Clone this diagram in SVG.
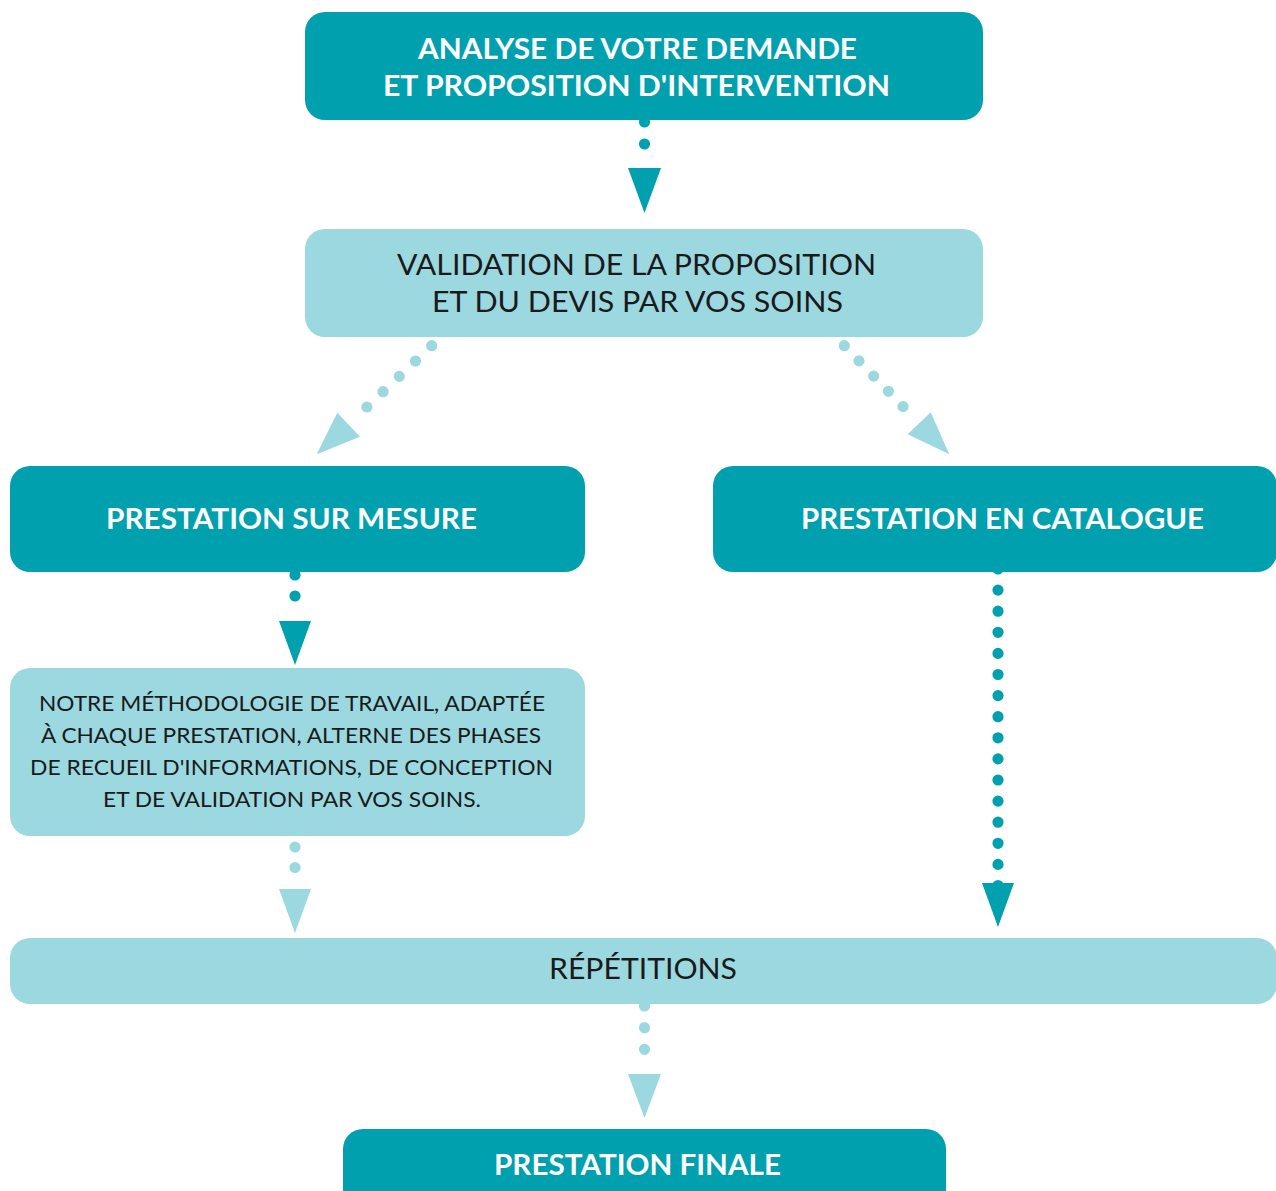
<svg xmlns="http://www.w3.org/2000/svg" width="1276" height="1191" viewBox="0 0 1276 1191">
<style>
.dark{fill:#00a0ae}
.light{fill:#9cd8e0}
.dkdots{stroke:#00a0ae;stroke-width:11.2;stroke-linecap:round;fill:none}
.ltdots{stroke:#9cd8e0;stroke-width:11.2;stroke-linecap:round;fill:none}
.dkhead{fill:#00a0ae}
.lthead{fill:#9cd8e0}
text{font-family:Lato,"Open Sans","Liberation Sans",sans-serif;text-anchor:middle}
.tw{fill:#ffffff;font-weight:bold;font-size:28px}
.tb{fill:#1a1a1a;font-weight:normal;font-size:28px}
.ts{fill:#1a1a1a;font-weight:normal;font-size:22px}
</style>
<rect width="1276" height="1191" fill="#ffffff"/>
<g id="connectors">
  <line class="dkdots" x1="644.5" y1="122" x2="644.5" y2="166" stroke-dasharray="0 22"/>
  <polygon class="dkhead" points="628,168 661,168 644.5,213"/>
  <line class="ltdots" x1="431.7" y1="345.7" x2="350.7" y2="422.3" stroke-dasharray="0 22.3"/>
  <polygon class="lthead" points="316.7,454.3 337.3,412.7 360,436.7"/>
  <line class="ltdots" x1="844.3" y1="345.7" x2="917.7" y2="421.7" stroke-dasharray="0 21.14"/>
  <polygon class="lthead" points="949.3,454.3 907.7,434.3 930.7,412.3"/>
  <line class="dkdots" x1="295" y1="575" x2="295" y2="617" stroke-dasharray="0 21"/>
  <polygon class="dkhead" points="279,621 311,621 295,665"/>
  <line class="dkdots" x1="998" y1="569" x2="998" y2="885.5" stroke-dasharray="0 21.1"/>
  <polygon class="dkhead" points="982,883 1014,883 998,927"/>
  <line class="ltdots" x1="295" y1="847" x2="295" y2="888" stroke-dasharray="0 20.5"/>
  <polygon class="lthead" points="279,889 311,889 295,933"/>
  <line class="ltdots" x1="644.5" y1="1006" x2="644.5" y2="1071" stroke-dasharray="0 21.67"/>
  <polygon class="lthead" points="628,1074 661,1074 644.5,1118"/>
</g>
<g id="node-analyse">
  <rect class="dark" x="305" y="12" width="678" height="108" rx="20"/>
  <text class="tw" x="637.5" y="58.5" textLength="439" lengthAdjust="spacingAndGlyphs">ANALYSE DE VOTRE DEMANDE</text>
  <text class="tw" x="636.5" y="95.5" textLength="507" lengthAdjust="spacingAndGlyphs">ET PROPOSITION D'INTERVENTION</text>
</g>
<g id="node-validation">
  <rect class="light" x="305" y="229" width="678" height="108" rx="20"/>
  <text class="tb" x="636.5" y="274.5" textLength="479" lengthAdjust="spacingAndGlyphs">VALIDATION DE LA PROPOSITION</text>
  <text class="tb" x="637.5" y="311.5" textLength="411" lengthAdjust="spacingAndGlyphs">ET DU DEVIS PAR VOS SOINS</text>
</g>
<g id="node-sur-mesure">
  <rect class="dark" x="10" y="466" width="575" height="106" rx="20"/>
  <text class="tw" x="291.5" y="529" textLength="371" lengthAdjust="spacingAndGlyphs">PRESTATION SUR MESURE</text>
</g>
<g id="node-catalogue">
  <rect class="dark" x="713" y="466" width="564" height="106" rx="20"/>
  <text class="tw" x="1002.5" y="529" textLength="403" lengthAdjust="spacingAndGlyphs">PRESTATION EN CATALOGUE</text>
</g>
<g id="node-methodologie">
  <rect class="light" x="10" y="668" width="575" height="168" rx="20"/>
  <text class="ts" x="292" y="711" textLength="506" lengthAdjust="spacingAndGlyphs">NOTRE MÉTHODOLOGIE DE TRAVAIL, ADAPTÉE</text>
  <text class="ts" x="291" y="743" textLength="500" lengthAdjust="spacingAndGlyphs">À CHAQUE PRESTATION, ALTERNE DES PHASES</text>
  <text class="ts" x="291.5" y="775" textLength="523" lengthAdjust="spacingAndGlyphs">DE RECUEIL D'INFORMATIONS, DE CONCEPTION</text>
  <text class="ts" x="292" y="807" textLength="378" lengthAdjust="spacingAndGlyphs">ET DE VALIDATION PAR VOS SOINS.</text>
</g>
<g id="node-repetitions">
  <rect class="light" x="10" y="938" width="1267" height="66" rx="20"/>
  <text class="tb" x="643" y="979" textLength="188" lengthAdjust="spacingAndGlyphs">RÉPÉTITIONS</text>
</g>
<g id="node-finale">
  <rect class="dark" x="343" y="1129" width="603" height="100" rx="20"/>
  <text class="tw" x="637.5" y="1175" textLength="287" lengthAdjust="spacingAndGlyphs">PRESTATION FINALE</text>
</g>
</svg>
